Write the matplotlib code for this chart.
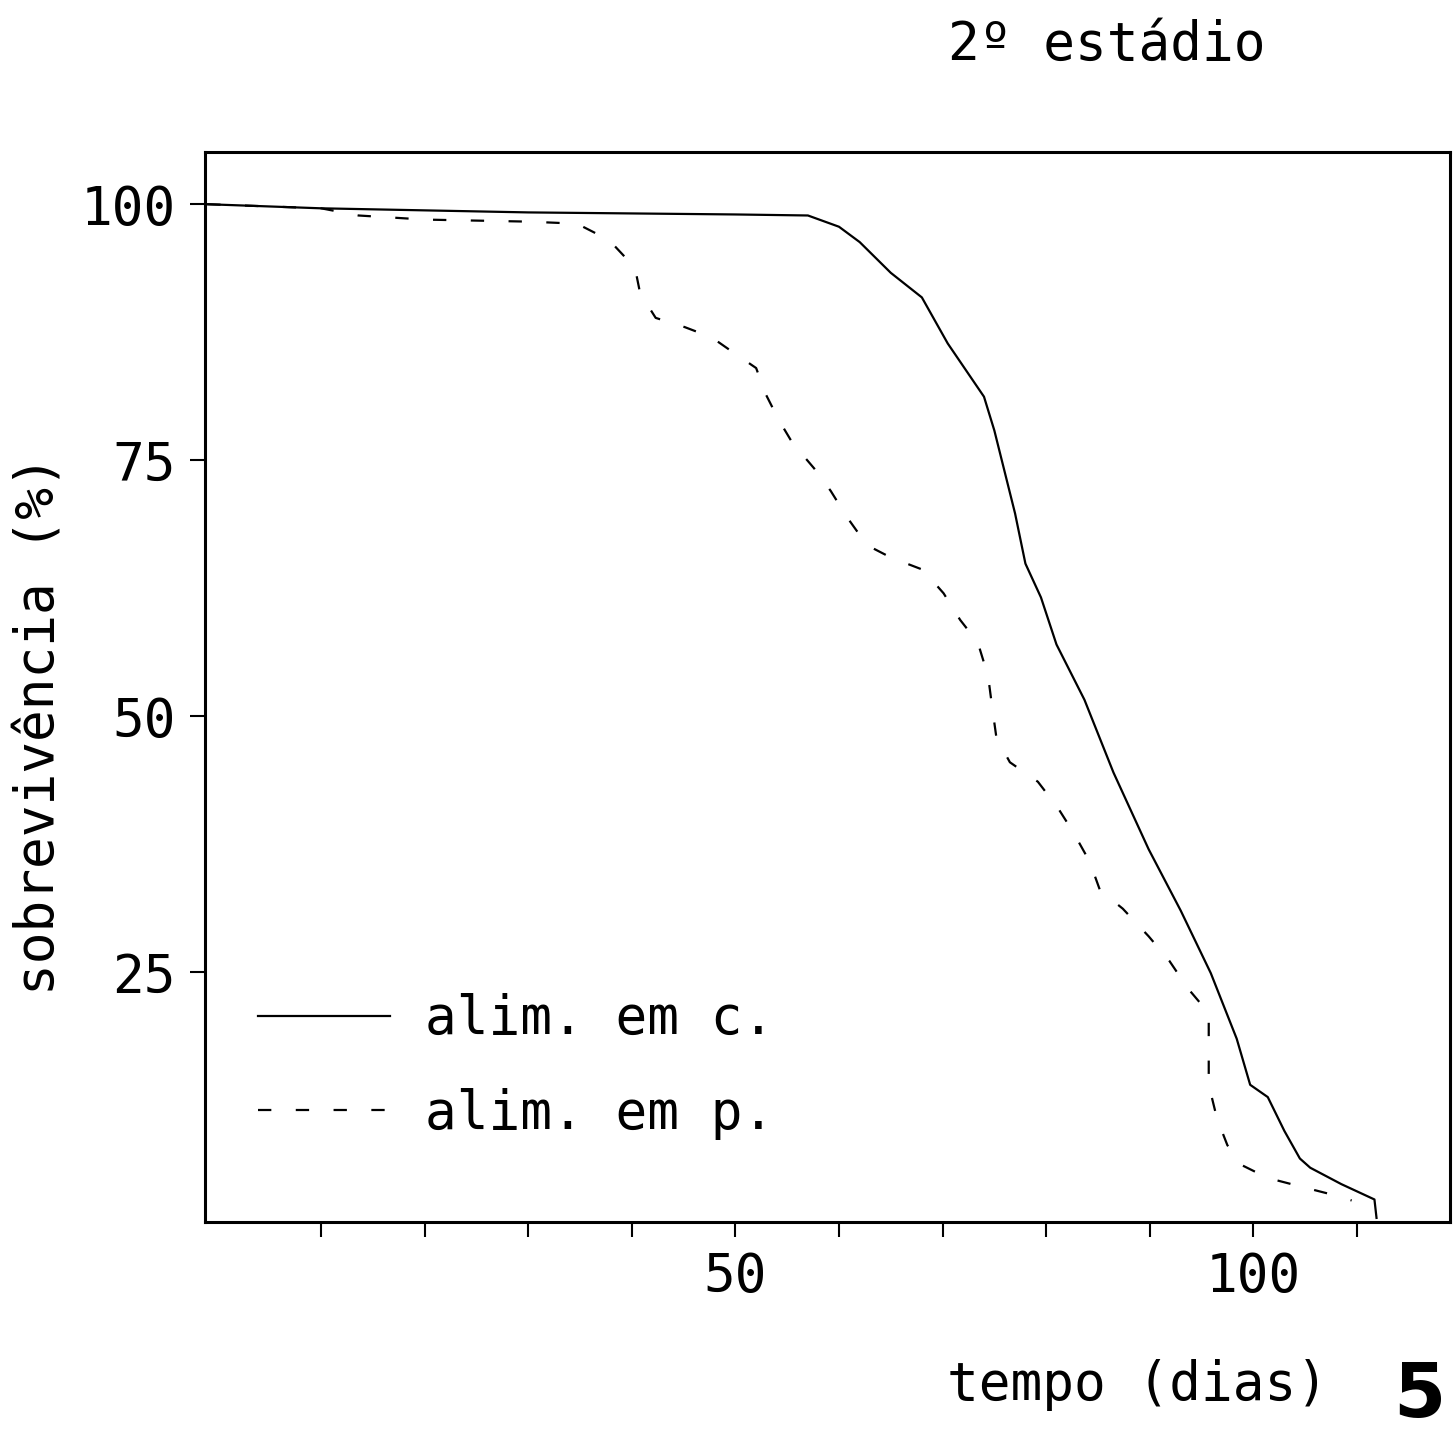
import matplotlib
matplotlib.use("Agg")
import matplotlib.pyplot as plt

# dados
dias_c = [-1.0, 10, 20, 30, 40, 50, 57, 60, 62, 65, 68, 70.5, 74, 75, 77, 78, 79.5, 81,
          83.7, 86.5, 89.9, 93, 95.9, 98.4, 99.7, 101.4, 103, 104.5, 105.5, 108.5,
          111.7, 111.9]
sobrev_c = [100, 99.6, 99.4, 99.2, 99.1, 99.0, 98.9, 97.8, 96.3, 93.3, 90.9, 86.4, 81.2,
            77.9, 69.8, 64.9, 61.6, 57.0, 51.6, 44.5, 37.0, 31.0, 24.9, 18.5, 14.0, 12.8,
            9.5, 6.8, 5.9, 4.3, 2.8, 1.0]

dias_p = [-1.0, 10, 13.6, 20, 30, 34.7, 37.8, 40.3, 40.8, 42.3, 45.1, 47.7, 49.4, 52.0,
          52.9, 54.2, 55.5, 57.6, 59.2, 60.8, 62.7, 65.0, 68.1, 70.1, 71.7, 73.4, 74.4,
          74.8, 75.2, 76.5, 79.2, 81.1, 82.6, 84.2, 85.2, 87.4, 89.9, 91.9, 93.7, 95.7,
          95.7, 96.5, 97.5, 99.0, 101.4, 105.2, 108.3, 109.5]
sobrev_p = [100, 99.6, 98.9, 98.5, 98.3, 98.1, 96.5, 93.8, 91.3, 88.9, 88.0, 87.0, 85.8,
            84.0, 81.5, 78.9, 76.7, 74.2, 72.0, 69.4, 66.7, 65.5, 64.3, 62.0, 59.4, 57.2,
            53.9, 50.8, 47.9, 45.5, 43.6, 41.1, 38.7, 35.8, 33.0, 31.2, 28.5, 26.1, 23.4,
            21.0, 14.0, 10.7, 8.1, 6.1, 4.9, 3.9, 3.1, 2.7]

series_labels = ["alim. em c.", "alim. em p."]
x_ticks = [10, 20, 30, 40, 50, 60, 70, 80, 90, 100, 110]
x_tick_labels = ["", "", "", "", "50", "", "", "", "", "100", ""]
y_ticks = [25, 50, 75, 100]
y_tick_labels = ["25", "50", "75", "100"]

fonte = "DejaVu Sans Mono"
fs = 38

fig = plt.figure(figsize=(14.55, 14.33), dpi=100)
ax = fig.add_axes([0.141, 1 - 1222 / 1433, 0.8556, 1070 / 1433])

ax.plot(dias_c, sobrev_c, color="black", lw=1.6, label=series_labels[0])
ax.plot(dias_p, sobrev_p, color="black", lw=1.6, linestyle=(0, (6, 11)),
        label=series_labels[1])

ax.set_xlim(-1.2, 119)
ax.set_ylim(0.6, 105.1)

ax.set_xticks(x_ticks)
ax.set_xticklabels(x_tick_labels, fontsize=fs, family=fonte)
ax.set_yticks(y_ticks)
ax.set_yticklabels(y_tick_labels, fontsize=fs, family=fonte)
ax.tick_params(axis="both", direction="out", length=11, width=1.5, pad=10)

for s in ax.spines.values():
    s.set_linewidth(2.2)

ax.set_xlabel("tempo (dias)", fontsize=fs, family=fonte)
ax.xaxis.set_label_coords(0.749, -0.128)
ax.set_ylabel("sobrevivência (%)", fontsize=fs, family=fonte)
ax.yaxis.set_label_coords(-0.113, 0.464)

leg = ax.legend(loc="lower left", bbox_to_anchor=(0.0426, 0.077), frameon=False,
                prop={"family": fonte, "size": fs}, handlelength=2.5,
                handletextpad=0.66, labelspacing=0.8, borderpad=0, borderaxespad=0)

fig.text(1107 / 1455, 1 - 45 / 1433, "2º estádio", fontsize=fs, family=fonte,
         ha="center", va="center")
fig.text(1419 / 1455, 1 - 1396 / 1433, "5", fontsize=54, fontweight="bold",
         ha="center", va="center")

fig.savefig("out.png", dpi=100)
